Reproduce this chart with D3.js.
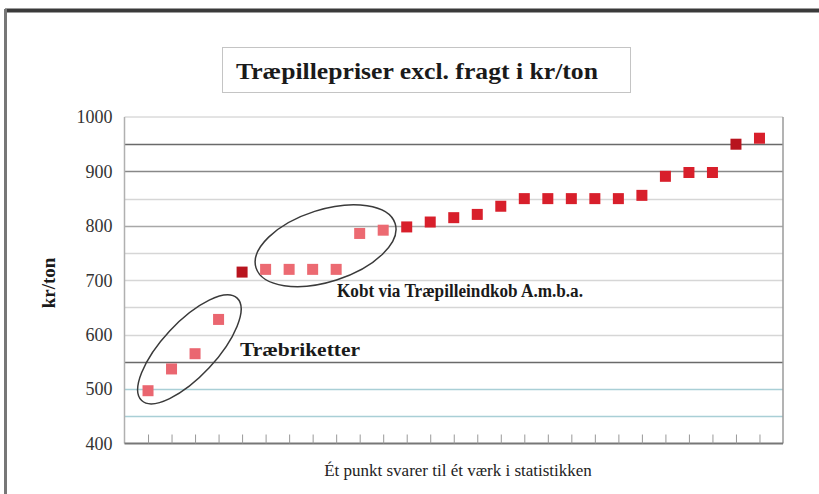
<!DOCTYPE html>
<html>
<head>
<meta charset="utf-8">
<script src="https://cdnjs.cloudflare.com/ajax/libs/d3/7.8.5/d3.min.js"></script>
<style>
  body { margin: 0; background: #fff; }
  svg { display: block; }
</style>
</head>
<body>
<div id="chart"></div>
<script>
// data: one point per plant, sorted by price
var prices = [497, 537, 565, 628, 715, 720, 720, 720, 720, 786, 792, 798, 807, 815, 821, 836,
  850, 850, 850, 850, 850, 856, 891, 898, 898, 950, 961];
var groups = ['b', 'b', 'b', 'b', 'd', 'a', 'a', 'a', 'a', 'a', 'a', 'r', 'r', 'r', 'r', 'r',
  'r', 'r', 'r', 'r', 'r', 'r', 'r', 'r', 'r', 'd', 'r'];
var yTicks = [400, 500, 600, 700, 800, 900, 1000];
var gridValues = [450, 500, 550, 600, 650, 700, 750, 800, 850, 900, 950];
var titleText = 'Træpillepriser excl. fragt i kr/ton';
var yLabel = 'kr/ton';
var xNote = 'Ét punkt svarer til ét værk i statistikken';
var notes = ['Træbriketter', 'Kobt via Træpilleindkob A.m.b.a.'];

var W = 819, H = 494;
var pLeft = 124.5, pRight = 783, pTop = 117, pBottom = 443.5;

var svg = d3.select('#chart').append('svg').attr('width', W).attr('height', H);

var x = d3.scaleLinear().domain([0, prices.length + 1]).range([pLeft, pRight]);
var y = d3.scaleLinear().domain([400, 1000]).range([pBottom, pTop]);

var colors = {b: '#ea6670', a: '#ec6a72', d: '#b8141e', r: '#d81f2b'};
function gridColor(v) {
  if (v == 950 || v == 550) return '#6a6a6a';
  if (v == 900) return '#888';
  if (v == 800) return '#a8a8a8';
  if (v == 450 || v == 500) return '#a9cfd6';
  return '#d6d6d6';
}
var serif = 'Liberation Serif, serif';

// outer frame
svg.append('line').attr('x1', 5).attr('x2', W).attr('y1', 10.5).attr('y2', 10.5)
  .attr('stroke', '#3a3a3a').attr('stroke-width', 4);
svg.append('line').attr('x1', 5.5).attr('x2', 5.5).attr('y1', 9).attr('y2', H)
  .attr('stroke', '#777').attr('stroke-width', 3);

// title box
svg.append('rect').attr('x', 222.5).attr('y', 47.5).attr('width', 408).attr('height', 45)
  .attr('fill', 'none').attr('stroke', '#c4c4c4');
svg.append('text').attr('x', 236).attr('y', 79)
  .attr('font-family', serif).attr('font-weight', 'bold')
  .attr('font-size', 24).attr('fill', '#1a1a1a')
  .attr('textLength', 362).attr('lengthAdjust', 'spacingAndGlyphs').text(titleText);

// gridlines
svg.append('g').selectAll('line').data(gridValues).join('line')
  .attr('x1', pLeft).attr('x2', pRight)
  .attr('y1', function(d) { return Math.round(y(d)) + 0.5; })
  .attr('y2', function(d) { return Math.round(y(d)) + 0.5; })
  .attr('stroke', gridColor).attr('stroke-width', 1.3);

// plot frame
svg.append('line').attr('x1', pLeft).attr('x2', pRight).attr('y1', pTop).attr('y2', pTop)
  .attr('stroke', '#c8c8c8');
svg.append('line').attr('x1', pRight).attr('x2', pRight).attr('y1', pTop).attr('y2', pBottom)
  .attr('stroke', '#9a9a9a').attr('stroke-width', 1.5);
svg.append('line').attr('x1', pLeft).attr('x2', pLeft).attr('y1', pTop).attr('y2', pBottom)
  .attr('stroke', '#b0b0b0').attr('stroke-width', 1.5);

// y axis
var yAxis = d3.axisLeft(y).tickValues(yTicks).tickSize(0).tickPadding(12).tickFormat(d3.format('d'));
var ya = svg.append('g').attr('transform', 'translate(' + pLeft + ',0)').call(yAxis);
ya.select('.domain').remove();
ya.selectAll('text').attr('font-family', serif).attr('font-size', 18)
  .attr('fill', '#333');

// x axis with inward ticks at each point
var xAxis = d3.axisBottom(x).tickValues(d3.range(1, prices.length + 1)).tickSize(-9).tickFormat('');
var xa = svg.append('g').attr('transform', 'translate(0,' + pBottom + ')').call(xAxis);
xa.select('.domain').attr('stroke', '#777').attr('stroke-width', 2)
  .attr('d', 'M' + pLeft + ',0H' + pRight);
xa.selectAll('.tick line').attr('stroke', '#999');

// axis label and note
svg.append('text').attr('transform', 'translate(55,283) rotate(-90)')
  .attr('text-anchor', 'middle')
  .attr('font-family', serif).attr('font-weight', 'bold')
  .attr('font-size', 19).attr('fill', '#1a1a1a').text(yLabel);
svg.append('text').attr('x', 458).attr('y', 476).attr('text-anchor', 'middle')
  .attr('font-family', serif).attr('font-size', 17)
  .attr('fill', '#222').text(xNote);

// ellipses around the grouped points
var ell = [
  {cx: 2.76, cy: 573, rx: 70, ry: 27, rot: -47},
  {cx: 8.55, cy: 763.5, rx: 73, ry: 36, rot: -17.7}
];
svg.append('g').selectAll('ellipse').data(ell).join('ellipse')
  .attr('transform', function(d) { return 'translate(' + x(d.cx) + ',' + y(d.cy) + ') rotate(' + d.rot + ')'; })
  .attr('rx', function(d) { return d.rx; }).attr('ry', function(d) { return d.ry; })
  .attr('fill', 'none').attr('stroke', '#3a3a3a').attr('stroke-width', 1.5);

// points
var s = 11;
svg.append('g').selectAll('rect').data(prices).join('rect')
  .attr('x', function(d, i) { return x(i + 1) - s / 2; })
  .attr('y', function(d) { return y(d) - s / 2; })
  .attr('width', s).attr('height', s)
  .attr('fill', function(d, i) { return colors[groups[i]]; });

// annotation text
var noteX = [240, 337], noteY = [356, 297], noteSize = [19, 18], noteLen = [120, 246];
svg.append('g').selectAll('text').data(notes).join('text')
  .attr('x', function(d, i) { return noteX[i]; })
  .attr('y', function(d, i) { return noteY[i]; })
  .attr('font-family', serif).attr('font-weight', 'bold')
  .attr('font-size', function(d, i) { return noteSize[i]; })
  .attr('textLength', function(d, i) { return noteLen[i]; })
  .attr('lengthAdjust', 'spacingAndGlyphs')
  .attr('fill', '#1a1a1a')
  .text(function(d) { return d; });
</script>
</body>
</html>
